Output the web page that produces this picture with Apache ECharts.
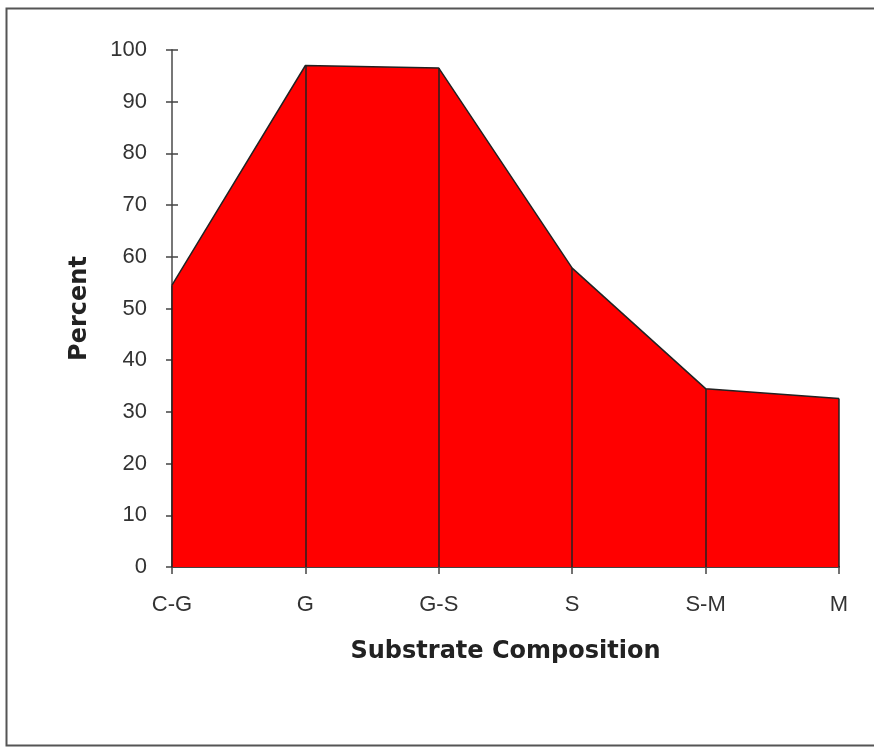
<!DOCTYPE html>
<html><head><meta charset="utf-8">
<script src="https://cdn.jsdelivr.net/npm/echarts@6/dist/echarts.min.js"></script>
<style>html,body{margin:0;padding:0;background:#fff}#c{width:874px;height:747px}</style>
</head><body><div id="c"></div>
<script>
const categories = ['C-G','G','G-S','S','S-M','M'];
const percent = [54.5, 97, 96.5, 57.8, 34.5, 32.6];
const yTicks = {min:0, max:100, interval:10};

const chart = echarts.init(document.getElementById('c'));
const font = '"Liberation Sans", Arial, sans-serif';
const titleFont = '"DejaVu Sans", sans-serif';
chart.setOption({
  animation:false,
  graphic:[{type:'rect', shape:{x:6.5,y:8.5,width:880,height:737}, style:{fill:'none', stroke:'#555', lineWidth:2}, z:100}],
  grid:{left:172, right:35, top:50, bottom:180},
  xAxis:{type:'category', data:categories, boundaryGap:false,
    name:'Substrate Composition', nameLocation:'middle', nameGap:73,
    nameTextStyle:{fontFamily:titleFont, fontWeight:'bold', fontSize:24, color:'#222'},
    axisLine:{lineStyle:{color:'#444', width:2}},
    axisTick:{show:true, alignWithLabel:true, length:7, lineStyle:{color:'#444', width:1.5}},
    axisLabel:{fontFamily:font, fontSize:22, color:'#333', margin:27},
    splitLine:{show:false}},
  yAxis:[{type:'value', min:yTicks.min, max:yTicks.max, interval:yTicks.interval,
    name:'Percent', nameLocation:'middle', nameGap:80, nameRotate:90,
    nameTextStyle:{fontFamily:titleFont, fontWeight:'bold', fontSize:24, color:'#222'},
    axisLine:{show:true, lineStyle:{color:'#777', width:2}},
    axisTick:{show:true, length:6, lineStyle:{color:'#444', width:1.5}},
    axisLabel:{fontFamily:font, fontSize:22, color:'#333', margin:25},
    splitLine:{show:false}},
   {type:'value', position:'left', min:yTicks.min, max:yTicks.max, interval:yTicks.interval,
    axisLine:{show:false}, axisLabel:{show:false}, splitLine:{show:false},
    axisTick:{show:true, inside:true, length:6, lineStyle:{color:'#444', width:1.5}}}],
  series:[{type:'line', data:percent, symbol:'none',
    lineStyle:{color:'#222', width:1.5},
    areaStyle:{color:'#ff0000', opacity:1},
    markLine:{symbol:'none', silent:true, label:{show:false},
      lineStyle:{color:'#222', width:1.5, type:'solid'},
      data: categories.map((c,i)=>[{coord:[c,0]},{coord:[c,percent[i]]}])}
  }]
});
</script></body></html>
